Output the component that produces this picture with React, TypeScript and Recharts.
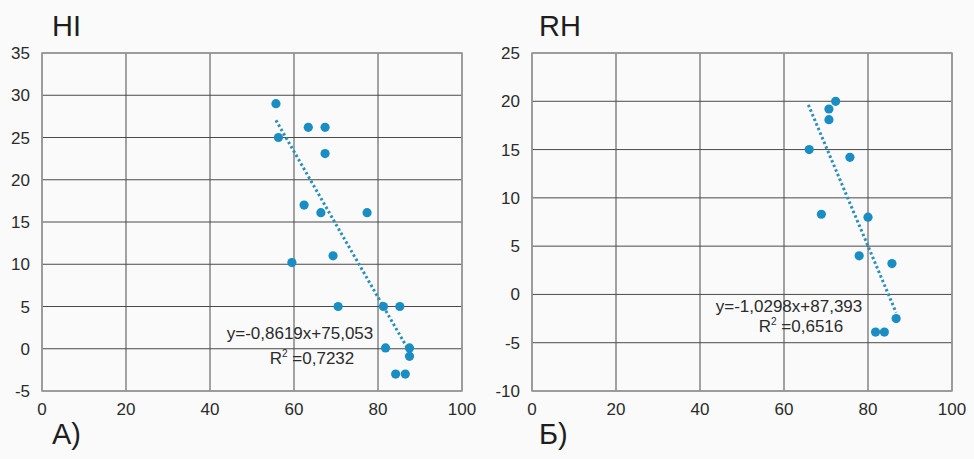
import { ScatterChart, Scatter, XAxis, YAxis, CartesianGrid, ReferenceLine, ReferenceArea } from 'recharts'

// axes
const xTicks = [0, 20, 40, 60, 80, 100]
const hiTicks = [-5, 0, 5, 10, 15, 20, 25, 30, 35]
const rhTicks = [-10, -5, 0, 5, 10, 15, 20, 25]

// HI panel (A)
const hiX = [55.7, 56.3, 63.4, 67.4, 67.4, 62.4, 66.4, 77.4, 59.5, 69.3, 70.5, 81.3, 85.2, 81.8, 87.5, 87.5, 84.2, 86.5]
const hiY = [29, 25, 26.2, 26.2, 23.1, 17, 16.1, 16.1, 10.2, 11, 5, 5, 5, 0.1, 0.1, -0.9, -3, -3]
const hiFit = { slope: -0.8619, intercept: 75.053, from: 55.7, to: 87.5 }

// RH panel (Б)
const rhX = [72.3, 70.7, 70.7, 66.0, 75.7, 68.9, 80.0, 77.9, 85.7, 86.7, 81.8, 83.9]
const rhY = [20, 19.2, 18.1, 15, 14.2, 8.3, 8.0, 4.0, 3.2, -2.5, -3.9, -3.9]
const rhFit = { slope: -1.0298, intercept: 87.393, from: 65.8, to: 86.7 }

const DOT = '#1a8ec2'
const TEXT = '#2b2b2b'
const FONT = '"Liberation Sans", Arial, sans-serif'

const toPoints = (xs: number[], ys: number[]) => xs.map((x, i) => ({ x, y: ys[i] }))

const fitSegment = (f: typeof hiFit) => [
  { x: f.from, y: f.slope * f.from + f.intercept },
  { x: f.to, y: f.slope * f.to + f.intercept },
]

const Dot = (props: any) => <circle cx={props.cx} cy={props.cy} r={4.6} fill={DOT} />

interface PanelProps {
  left: number
  title: string
  caption: string
  points: { x: number; y: number }[]
  yTicks: number[]
  fit: typeof hiFit
  marginLeft: number
  marginRight: number
  eq: string
  r2: string
  eqX: number
  eqY: number
  r2X: number
  r2Y: number
}

function Panel(p: PanelProps) {
  const yMin = p.yTicks[0]
  const yMax = p.yTicks[p.yTicks.length - 1]
  const tick = { fill: TEXT, fontSize: 17, fontFamily: FONT }
  const eqStyle = {
    position: 'absolute' as const,
    transform: 'translateX(-50%)',
    fontFamily: FONT,
    fontSize: 17,
    color: TEXT,
    whiteSpace: 'nowrap' as const,
  }
  return (
    <div style={{ position: 'absolute', left: p.left, top: 0, width: 487, height: 459 }}>
      <ScatterChart
        width={487}
        height={459}
        margin={{ top: 53, right: p.marginRight, bottom: 38, left: p.marginLeft }}
      >
        <CartesianGrid stroke="#4a4a4a" strokeWidth={1} />
        <XAxis
          type="number"
          dataKey="x"
          domain={[0, 100]}
          ticks={xTicks}
          axisLine={false}
          tickLine={false}
          tick={tick}
          tickMargin={6}
          height={30}
          interval={0}
        />
        <YAxis
          type="number"
          dataKey="y"
          domain={[yMin, yMax]}
          ticks={p.yTicks}
          axisLine={false}
          tickLine={false}
          tick={tick}
          tickMargin={6}
          width={40}
          interval={0}
        />
        <ReferenceArea x1={0} x2={100} y1={yMin} y2={yMax} fill="none" stroke="#9a9a9a" strokeWidth={1.5} />
        <ReferenceLine
          segment={fitSegment(p.fit)}
          stroke="#2b8fb8"
          strokeWidth={3}
          strokeDasharray="2.5 2.5"
        />
        <Scatter data={p.points} shape={Dot} isAnimationActive={false} />
      </ScatterChart>
      <div style={{ position: 'absolute', left: 52, top: 10, fontFamily: FONT, fontSize: 29, color: '#1e1e1e' }}>
        {p.title}
      </div>
      <div style={{ position: 'absolute', left: 52, top: 418, fontFamily: FONT, fontSize: 29, color: '#1e1e1e' }}>
        {p.caption}
      </div>
      <div style={{ ...eqStyle, left: p.eqX, top: p.eqY }}>{p.eq}</div>
      <div style={{ ...eqStyle, left: p.r2X, top: p.r2Y }}>
        R<sup style={{ fontSize: 10 }}>2</sup> =
        {p.r2}
      </div>
    </div>
  )
}

export default function App() {
  return (
    <div style={{ position: 'absolute', left: 0, top: 0, width: 974, height: 459, background: '#fafafa' }}>
      <Panel
        left={0}
        title="HI"
        caption="A)"
        points={toPoints(hiX, hiY)}
        yTicks={hiTicks}
        fit={hiFit}
        marginLeft={2}
        marginRight={25}
        eq="y=-0,8619x+75,053"
        r2="0,7232"
        eqX={300}
        eqY={324}
        r2X={312}
        r2Y={348}
      />
      <Panel
        left={487}
        title="RH"
        caption="Б)"
        points={toPoints(rhX, rhY)}
        yTicks={rhTicks}
        fit={rhFit}
        marginLeft={5}
        marginRight={22}
        eq="y=-1,0298x+87,393"
        r2="0,6516"
        eqX={302}
        eqY={297}
        r2X={314}
        r2Y={316}
      />
    </div>
  )
}
